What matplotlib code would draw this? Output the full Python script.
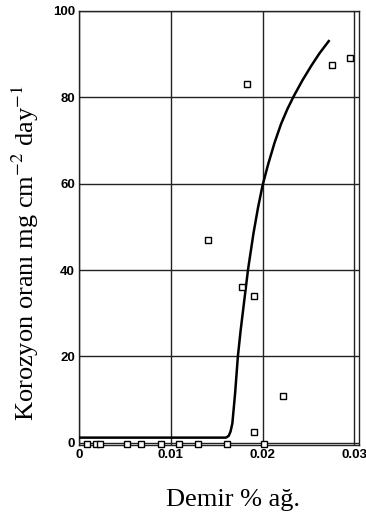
import numpy as np
import matplotlib
matplotlib.use("Agg")
import matplotlib.pyplot as plt

# measured corrosion rate vs iron content
iron_pct = [0.00087, 0.0018, 0.0023, 0.0052, 0.0067, 0.0089, 0.0109, 0.0130,
            0.0161, 0.0201, 0.0191, 0.0222, 0.0177, 0.0191, 0.0140, 0.0183,
            0.0275, 0.0295]
corr_rate = [-0.3, -0.3, -0.3, -0.3, -0.3, -0.3, -0.3, -0.3,
             -0.3, -0.3, 2.5, 10.9, 36.1, 34.0, 47.0, 83.0,
             87.5, 89.0]

# fitted trend line
fit_x = [0.0, 0.0160, 0.0163, 0.0165, 0.0167, 0.0170, 0.0173, 0.0176, 0.0180,
         0.0184, 0.0190, 0.0195, 0.0200, 0.0206, 0.0213, 0.0220, 0.0227,
         0.0234, 0.0243, 0.0253, 0.0262, 0.0272]
fit_y = [1.2, 1.2, 1.6, 2.6, 4.5, 11.5, 20.0, 26.0, 33.0,
         40.0, 48.5, 54.5, 59.7, 64.5, 69.5, 73.8, 77.3,
         80.3, 83.8, 87.3, 90.2, 93.0]

x_ticks = [0, 0.01, 0.02, 0.03]
x_tick_labels = ["0", "0.01", "0.02", "0.03"]
y_ticks = [0, 20, 40, 60, 80, 100]

fig = plt.figure(figsize=(3.66, 5.18), dpi=100)
ax = fig.add_axes([0.216, 0.141, 0.765, 0.838])

ax.grid(True, color="#222222", linewidth=1.0)
ax.set_axisbelow(True)

ax.plot(fit_x, fit_y, color="black", linewidth=1.8, zorder=3,
        solid_joinstyle="round")
ax.plot(iron_pct, corr_rate, linestyle="none", marker="s", markersize=4,
        markerfacecolor="white", markeredgecolor="black", markeredgewidth=1.0,
        clip_on=False, zorder=4)

ax.set_xlim(0, 0.0305)
ax.set_ylim(-0.5, 100)
ax.set_xticks(x_ticks)
ax.set_xticklabels(x_tick_labels)
ax.set_yticks(y_ticks)
ax.tick_params(length=0, labelsize=9.5, pad=3)
for lbl in ax.get_xticklabels() + ax.get_yticklabels():
    lbl.set_fontweight("bold")
    lbl.set_family("Liberation Sans")

for s in ax.spines.values():
    s.set_linewidth(1.0)
    s.set_color("#222222")

ax.set_ylabel("Korozyon oranı mg cm$^{-2}$ day$^{-1}$", family="Liberation Serif",
              fontsize=19)
ax.yaxis.label.set_math_fontfamily("stix")
ax.yaxis.set_label_coords(-0.135, 0.442)
fig.text(0.637, 0.035, "Demir % ağ.", family="Liberation Serif", fontsize=19,
         ha="center", va="center")

fig.savefig("out.png", dpi=100)
